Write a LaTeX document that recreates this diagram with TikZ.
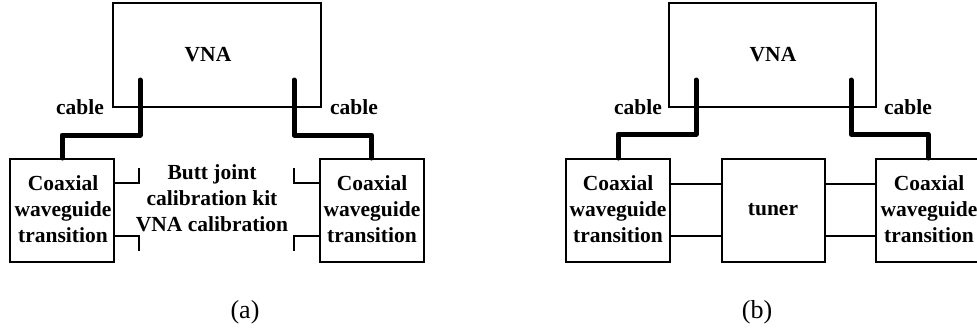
\documentclass[tikz,border=0pt]{standalone}
\usepackage{fontspec}
\setmainfont{Liberation Serif}
\begin{document}
\begin{tikzpicture}[x=1pt,y=-1pt,
  box/.style={draw,line width=2pt,inner sep=0pt,minimum width=104pt,minimum height=103pt},
  bigbox/.style={draw,line width=2pt,inner sep=0pt,minimum width=208pt,minimum height=104pt},
  lbl/.style={font=\fontsize{21.5}{26}\selectfont\bfseries,align=center,inner sep=0pt},
  captxt/.style={font=\fontsize{26}{30}\selectfont,inner sep=0pt},
  cablewire/.style={line width=5pt,line cap=round,line join=round},
  thin/.style={line width=2pt}]
\clip (0,0) rectangle (977,333);
\fill[white] (0,0) rectangle (977,333);
% ---------- panel (a) ----------
\node[bigbox] (vnaA) at (217,55) {};
\node[lbl] (vnaAt) at (208,55) {VNA};
\node[box] (lboxA) at (62,210.5) {};
\node[lbl] (lboxAt) at (63,209) {Coaxial\\waveguide\\transition};
\node[box] (rboxA) at (371.5,210.5) {};
\node[lbl] (rboxAt) at (372,209) {Coaxial\\waveguide\\transition};
\node[lbl] (buttA) at (212,198) {Butt joint\\calibration kit\\VNA calibration};
\node[lbl] (cabA1) at (80,107) {cable};
\node[lbl] (cabA2) at (354,107) {cable};
\coordinate (a1) at (140,80);
\coordinate (a2) at (140,135);
\coordinate (a3) at (294,80);
\coordinate (a4) at (294,135);
\draw[cablewire] (a1) -- (a2) -| (lboxA.north);
\draw[cablewire] (a3) -- (a4) -| (rboxA.north);
% brackets
\coordinate (b1) at (139,183); \coordinate (b2) at (139,168);
\coordinate (b3) at (139,236); \coordinate (b4) at (139,251);
\coordinate (b5) at (294,183); \coordinate (b6) at (294,168);
\coordinate (b7) at (294,236); \coordinate (b8) at (294,251);
\draw[thin] (lboxA.east |- b1) -- (b1) -- (b2);
\draw[thin] (lboxA.east |- b3) -- (b3) -- (b4);
\draw[thin] (rboxA.west |- b5) -- (b5) -- (b6);
\draw[thin] (rboxA.west |- b7) -- (b7) -- (b8);
\node[captxt] (capA) at (245,312) {(a)};
% ---------- panel (b) ----------
\node[bigbox,minimum width=207pt] (vnaB) at (772.5,55) {};
\node[lbl] (vnaBt) at (773,55) {VNA};
\node[box] (lboxB) at (618,210.5) {};
\node[lbl] (lboxBt) at (618,209) {Coaxial\\waveguide\\transition};
\node[box,minimum width=103pt] (tuner) at (773.5,210.5) {};
\node[lbl] (tunert) at (773,210) {tuner};
\node[box] (rboxB) at (928,210.5) {};
\node[lbl] (rboxBt) at (929,209) {Coaxial\\waveguide\\transition};
\node[lbl] (cabB1) at (638,107) {cable};
\node[lbl] (cabB2) at (908,107) {cable};
\coordinate (c1) at (696,80);
\coordinate (c2) at (696,134);
\coordinate (c3) at (851,80);
\coordinate (c4) at (851,134);
\draw[cablewire] (c1) -- (c2) -| (lboxB.north);
\draw[cablewire] (c3) -- (c4) -| (rboxB.north);
\coordinate (d1) at (700,184);
\coordinate (d2) at (700,236);
\draw[thin] (lboxB.east |- d1) -- (tuner.west |- d1);
\draw[thin] (lboxB.east |- d2) -- (tuner.west |- d2);
\draw[thin] (tuner.east |- d1) -- (rboxB.west |- d1);
\draw[thin] (tuner.east |- d2) -- (rboxB.west |- d2);
\node[captxt] (capB) at (757,312) {(b)};
\end{tikzpicture}
\end{document}
